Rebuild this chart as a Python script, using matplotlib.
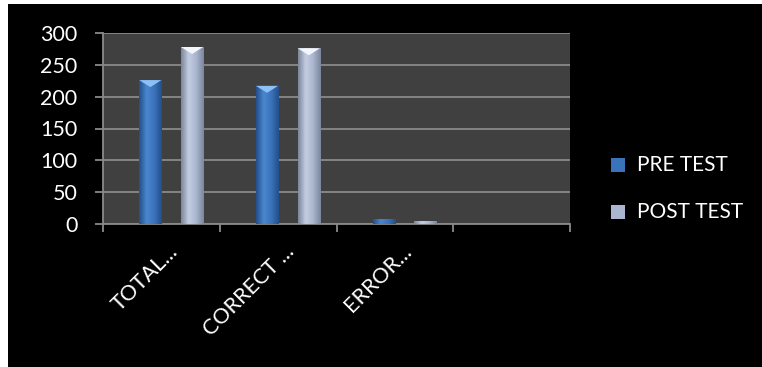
import numpy as np
import matplotlib.pyplot as plt
from matplotlib.patches import Rectangle
from matplotlib.colors import LinearSegmentedColormap

plt.rcParams['font.family'] = ['Lato', 'DejaVu Sans']

categories = ['TOTAL...', 'CORRECT ...', 'ERROR...', '']
pre_test = [226, 217, 8, 0]
post_test = [278, 276, 4, 0]
series_names = ['PRE TEST', 'POST TEST']

fig = plt.figure(figsize=(7.62, 3.67), dpi=100)
fig.patch.set_facecolor('white')
# black slide background
bg = fig.add_axes([8 / 762, 0, 1 - 8 / 762, 1 - 4 / 367], zorder=-10)
bg.set_facecolor('black')
bg.set_xticks([])
bg.set_yticks([])
for s in bg.spines.values():
    s.set_visible(False)

ax = fig.add_axes([103 / 762, 1 - 224 / 367, (570 - 103) / 762, (224 - 33) / 367])
ax.set_facecolor('#404040')

x = np.arange(len(categories)) + 0.5
w = 0.19

pre_cmap = LinearSegmentedColormap.from_list('pre', ['#234f8a', '#4a86cf', '#3b73bb', '#234f8a'])
post_cmap = LinearSegmentedColormap.from_list('post', ['#7c879c', '#c4cde2', '#aab6cf', '#7c879c'])
grad = np.linspace(0, 1, 64).reshape(1, -1)


def draw_bars(xs, vals, cmap, tipcol):
    for xi, v in zip(xs, vals):
        if v <= 0:
            continue
        r = Rectangle((xi - w / 2, 0), w, v, facecolor='none', edgecolor='none', zorder=3)
        ax.add_patch(r)
        im = ax.imshow(grad, cmap=cmap, aspect='auto', extent=(xi - w / 2, xi + w / 2, 0, v),
                       zorder=3, interpolation='bicubic')
        im.set_clip_path(r)
        # light bevel on top
        if v > 20:
            ax.fill([xi - w / 2, xi + w / 2, xi], [v, v, v - 11], color=tipcol, zorder=4, lw=0)


draw_bars(x - 0.095, pre_test, pre_cmap, '#8ec0f5')
draw_bars(x + 0.263, post_test, post_cmap, '#f4f6fb')

ax.set_xlim(0, len(categories))
ax.set_ylim(0, 300)
ax.set_yticks(np.arange(0, 301, 50))
ax.yaxis.grid(True, color='#8a8a8a', lw=1.3)
ax.set_axisbelow(True)
ax.set_xticks(np.arange(len(categories) + 1))
ax.set_xticklabels([])
for xi, lab in zip(x, categories):
    ax.text(xi + 0.15, -45, lab, rotation=45, ha='right', va='baseline', rotation_mode='anchor',
            color='white', fontsize=15.5, clip_on=False)

for s in ['top', 'right']:
    ax.spines[s].set_visible(False)
for s in ['left', 'bottom']:
    ax.spines[s].set_color('#8a8a8a')
    ax.spines[s].set_linewidth(1.3)
ax.tick_params(axis='y', colors='#8a8a8a', labelcolor='white', labelsize=15.5, length=6, width=1.3, pad=12.5)
ax.tick_params(axis='x', colors='#8a8a8a', length=6, width=1.3)

# legend
for i, (name, c1) in enumerate(zip(series_names, ['#3b73bb', '#aab6cf'])):
    yy = 1 - (165 + 47 * i) / 367
    bg.add_patch(Rectangle((611 / 762, yy - 7 / 367), 14 / 762, 14 / 367,
                           transform=fig.transFigure, facecolor=c1, edgecolor='none'))
    fig.text(637 / 762, yy, name, color='white', fontsize=15, va='center', ha='left')

fig.savefig('out.png', dpi=100, facecolor=fig.get_facecolor())
